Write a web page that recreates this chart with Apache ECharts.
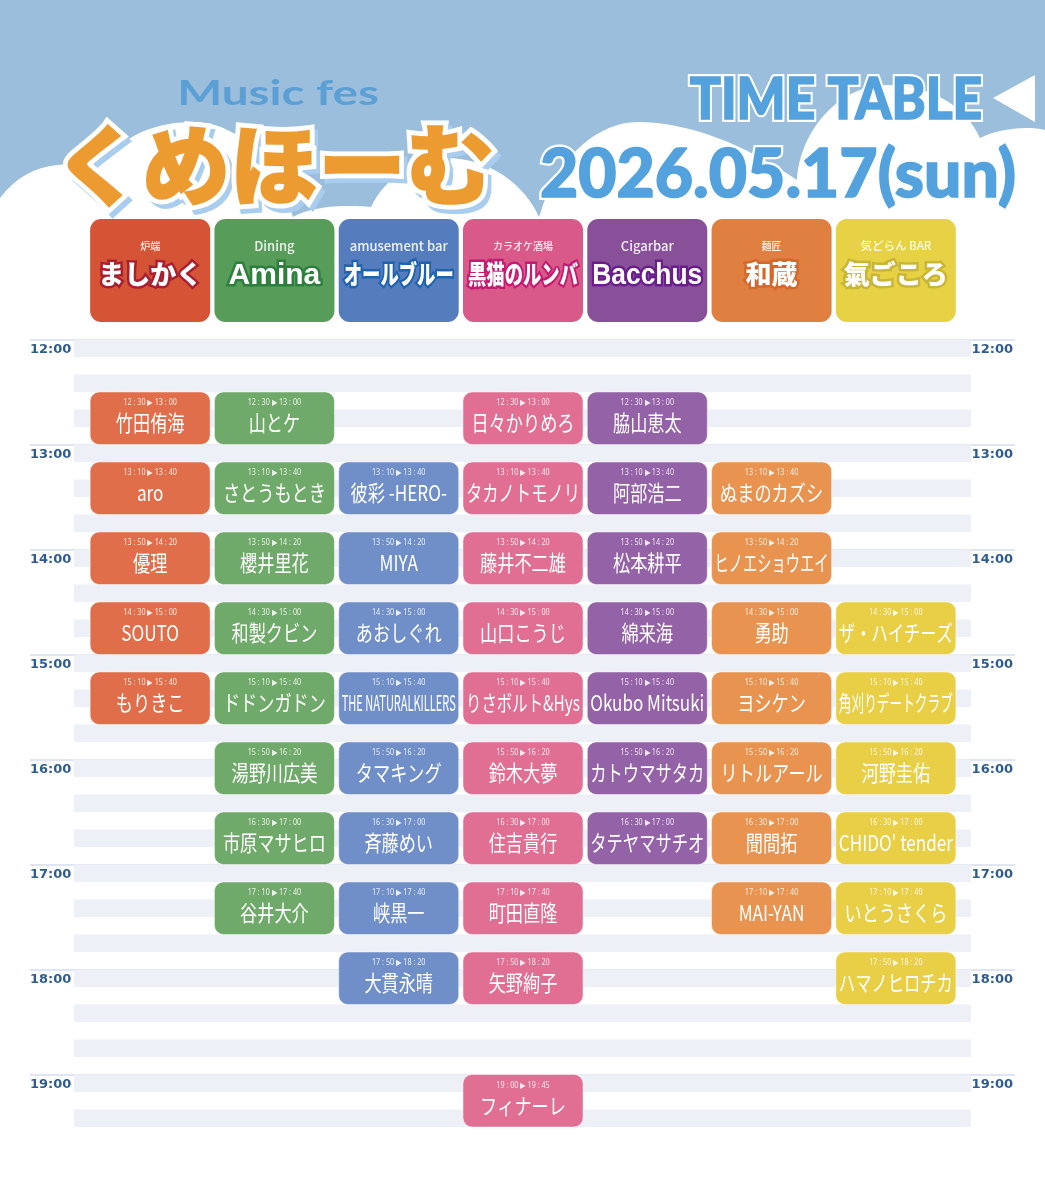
<!DOCTYPE html>
<html>
<head>
<meta charset="utf-8">
<title>くめほーむ TIME TABLE</title>
<script src="https://cdn.jsdelivr.net/npm/echarts@6/dist/echarts.min.js"></script>
<style>
  html, body { margin: 0; padding: 0; background: #fff; }
  #chart { width: 1045px; height: 1200px; }
</style>
</head>
<body>
<div id="chart"></div>
<script>
const venues = ['ましかく', 'Amina', 'オールブルー', '黒猫のルンバ', 'Bacchus', '和蔵', '氣ごころ']
const venueTags = ['炉端', 'Dining', 'amusement bar', 'カラオケ酒場', 'Cigarbar', '麺匠', '気どらん BAR']

// 枠: 開始, 終了 (19:00 は表記 19:45 だが箱は他と同じ高さ)
const slotStarts = ['12:30', '13:10', '13:50', '14:30', '15:10', '15:50', '16:30', '17:10', '17:50', '19:00']
const slotEnds = ['13:00', '13:40', '14:20', '15:00', '15:40', '16:20', '17:00', '17:40', '18:20', '19:30']
const slotLabels = ['12:30 ▶ 13:00', '13:10 ▶ 13:40', '13:50 ▶ 14:20', '14:30 ▶ 15:00', '15:10 ▶ 15:40',
  '15:50 ▶ 16:20', '16:30 ▶ 17:00', '17:10 ▶ 17:40', '17:50 ▶ 18:20', '19:00 ▶ 19:45']

const mashikakuActs = ['竹田侑海', 'aro', '優理', 'SOUTO', 'もりきこ', null, null, null, null, null]
const aminaActs = ['山とケ', 'さとうもとき', '櫻井里花', '和製クビン', 'ドドンガドン', '湯野川広美', '市原マサヒロ', '谷井大介', null, null]
const allBlueActs = [null, '彼彩 -HERO-', 'MIYA', 'あおしぐれ', 'THE NATURALKILLERS', 'タマキング', '斉藤めい', '峡黒一', '大貫永晴', null]
const rumbaActs = ['日々かりめろ', 'タカノトモノリ', '藤井不二雄', '山口こうじ', 'りさボルト&Hys', '鈴木大夢', '住吉貴行', '町田直隆', '矢野絢子', 'フィナーレ']
const bacchusActs = ['脇山恵太', '阿部浩二', '松本耕平', '綿来海', 'Okubo Mitsuki', 'カトウマサタカ', 'タテヤマサチオ', null, null, null]
const wazoActs = [null, 'ぬまのカズシ', 'ヒノエショウエイ', '勇助', 'ヨシケン', 'リトルアール', '聞間拓', 'MAI-YAN', null, null]
const kigokoroActs = [null, null, null, 'ザ・ハイチーズ', '角刈りデートクラブ', '河野圭佑', "CHIDO' tender", 'いとうさくら', 'ハマノヒロチカ', null]
const venueActs = [mashikakuActs, aminaActs, allBlueActs, rumbaActs, bacchusActs, wazoActs, kigokoroActs]

const tileColors = ['#D65436', '#579C59', '#557DBE', '#D95A88', '#875098', '#DF7F40', '#E6D244']
const tileEdges = ['#A81F30', '#2E7F3E', '#1F62AE', '#C51A72', '#691E8C', '#D4682A', '#C9B637']
const blockColors = ['#E06E4A', '#70AA6A', '#708FC9', '#E16F94', '#9462A7', '#E8934F', '#E8CF45']

const cloudPath = 'M0,198 C15,178 35,167 57,165 C75,163 95,165 115,150 C135,130 165,122 193,122 ' +
  'C240,122 280,165 293,217 C305,210 325,206 345,206 C355,206 365,206 371,207 ' +
  'C385,178 415,158 446,158 C490,158 525,185 539,217 L543,205 C560,155 600,122 637,122 ' +
  'C690,122 745,145 797,180 C800,130 840,85 887,85 C930,85 965,105 980,138 ' +
  'C995,130 1025,125 1045,130 L1045,262 L0,262 Z'

const toMin = s => { const p = s.split(':'); return p[0] * 60 + +p[1] }
const JP = '"Noto Sans CJK JP", sans-serif'

const ctx = document.createElement('canvas').getContext('2d')
// 幅に収まるよう横方向だけ縮める
function fitScale(text, font, base, maxW) {
  ctx.font = font
  const w = ctx.measureText(text).width
  return Math.min(base, maxW / w)
}

const blocks = []
venueActs.forEach((acts, v) => {
  acts.forEach((name, s) => {
    if (name) blocks.push([v, toMin(slotStarts[s]), toMin(slotEnds[s]), s, name])
  })
})

function renderBlock(params, api) {
  const b = blocks[params.dataIndex]
  const top = api.coord([b[0], b[1]])
  const bottom = api.coord([b[0], b[2]])
  const w = api.size([1, 0])[0] - 4.3
  const nameFont = '400 22px ' + JP
  return {
    type: 'group',
    children: [
      {
        type: 'rect',
        shape: { x: top[0] - w / 2, y: top[1], width: w, height: bottom[1] - top[1], r: 9 },
        style: { fill: blockColors[b[0]], stroke: 'rgba(255,255,255,0.45)', lineWidth: 1 }
      },
      {
        type: 'text',
        x: top[0],
        y: top[1] + 11,
        scaleX: 0.9,
        style: {
          text: slotLabels[b[3]].replace(/:/g, ' : '),
          font: '400 8px "Noto Sans", sans-serif',
          fill: 'rgba(255,255,255,0.85)',
          align: 'center',
          verticalAlign: 'middle'
        }
      },
      {
        type: 'text',
        x: top[0],
        y: top[1] + 31,
        scaleX: fitScale(b[4], nameFont, 0.78, 114),
        style: {
          text: b[4],
          font: nameFont,
          fill: '#fff',
          align: 'center',
          verticalAlign: 'middle'
        }
      }
    ]
  }
}

function tagSize(tag) {
  if (/^[\x00-\x7f]+$/.test(tag)) return 13
  return /[A-Z]/.test(tag) ? 11.5 : 10
}

function renderTile(params, api) {
  const v = api.value(0)
  const top = api.coord([v, 1])
  const bottom = api.coord([v, 0])
  const w = api.size([1, 0])[0] - 4.3
  const latin = /^[A-Za-z]/.test(venues[v])
  const font = '900 ' + (latin ? 30 : 26) + 'px ' + (latin ? '"Liberation Sans", sans-serif' : JP)
  return {
    type: 'group',
    children: [
      {
        type: 'rect',
        shape: { x: top[0] - w / 2, y: top[1], width: w, height: bottom[1] - top[1], r: 11 },
        style: { fill: tileColors[v] }
      },
      {
        type: 'text',
        x: top[0],
        y: top[1] + 27,
        style: {
          text: venueTags[v],
          font: '500 ' + tagSize(venueTags[v]) + 'px ' + JP,
          fill: 'rgba(255,255,255,0.9)',
          align: 'center',
          verticalAlign: 'middle'
        }
      },
      {
        type: 'text',
        x: top[0],
        y: top[1] + (latin ? 56.5 : 55),
        scaleX: fitScale(venues[v], font, 1, 110),
        style: {
          text: venues[v],
          font: font,
          fill: '#fff',
          stroke: tileEdges[v],
          lineWidth: 5,
          lineJoin: 'round',
          strokeFirst: true,
          align: 'center',
          verticalAlign: 'middle'
        }
      }
    ]
  }
}

const hourLabel = margin => ({
  inside: true,
  margin: margin,
  color: '#2F5C90',
  fontFamily: '"DejaVu Sans", sans-serif',
  fontWeight: 'bold',
  fontSize: 13,
  verticalAlign: 'top',
  padding: [4, 0, 0, 0],
  formatter: v => Math.floor(v / 60) + ':00'
})

const hiddenX = i => ({ gridIndex: i, type: 'value', min: 0, max: 1, show: false })

// 白縁 + 本体の二段重ねの見出し文字
function outlined(text, font, x, y, scaleX, fill, edge, edgeWidth, z) {
  const base = { text: text, font: font, align: 'center', verticalAlign: 'middle', lineJoin: 'round' }
  return [
    { type: 'text', z: z, x: x, y: y, scaleX: scaleX, style: Object.assign({ fill: edge, stroke: edge, lineWidth: edgeWidth }, base) },
    { type: 'text', z: z + 0.5, x: x, y: y, scaleX: scaleX, style: Object.assign({ fill: fill, stroke: fill, lineWidth: 1.5 }, base) }
  ]
}

const option = {
  animation: false,
  backgroundColor: '#fff',
  graphic: {
    elements: [
      { type: 'rect', z: -10, shape: { x: 0, y: 0, width: 1045, height: 240 }, style: { fill: '#9ABEDC' } },
      { type: 'polygon', z: -5, shape: { points: [[993, 98], [1035, 75], [1035, 122]] }, style: { fill: '#fff' } },
      {
        type: 'text', z: -5, x: 278, y: 94,
        scaleX: 1.4,
        style: {
          text: 'Music fes', font: '700 34px Lato, sans-serif', fill: '#5B9FD5',
          align: 'center', verticalAlign: 'middle'
        }
      },
      {
        type: 'text', z: -5, x: 278, y: 170,
        style: {
          text: 'くめほーむ', font: '900 88px ' + JP, fill: '#A9CDEE', stroke: '#A9CDEE', lineWidth: 10, lineJoin: 'round',
          align: 'center', verticalAlign: 'middle'
        }
      },
      ...outlined('くめほーむ', '900 88px ' + JP, 274, 165, 1, '#EC9B30', '#fff', 11, -4),
      ...outlined('TIME TABLE', '900 58px Lato, sans-serif', 836, 100, 0.89, '#53A2DE', '#fff', 6, -5),
      ...outlined('2026.05.17(sun)', '900 66px Lato, sans-serif', 778, 176, 1, '#53A2DE', '#fff', 6, -5)
    ]
  },
  grid: [
    // 時刻ラベルと毎時の線
    { left: 30, width: 985, top: 339.5, height: 735 },
    // 10分ごとの帯
    { left: 74, width: 897, top: 339.5, height: 787.5 },
    // 出演枠
    { left: 88, width: 870, top: 339.5, height: 787.5 },
    // 会場タイル
    { left: 88, width: 870, top: 219, height: 103 }
  ],
  xAxis: [
    hiddenX(0),
    hiddenX(1),
    { gridIndex: 2, type: 'category', data: venues, show: false },
    { gridIndex: 3, type: 'category', data: venues, show: false }
  ],
  yAxis: [
    {
      gridIndex: 0, type: 'value', inverse: true, min: 720, max: 1140, interval: 60,
      axisLine: { show: false }, axisTick: { show: false },
      axisLabel: hourLabel(0),
      splitLine: { show: true, lineStyle: { color: '#D4DCEE', width: 1.5 } }
    },
    {
      gridIndex: 0, type: 'value', inverse: true, position: 'right', min: 720, max: 1140, interval: 60,
      axisLine: { show: false }, axisTick: { show: false },
      axisLabel: hourLabel(2),
      splitLine: { show: false }
    },
    {
      gridIndex: 1, type: 'value', inverse: true, min: 720, max: 1170, interval: 10,
      axisLine: { show: false }, axisTick: { show: false }, axisLabel: { show: false },
      splitLine: { show: false },
      splitArea: { show: true, areaStyle: { color: ['#EDF0F7', 'rgba(255,255,255,0)'] } }
    },
    { gridIndex: 2, type: 'value', inverse: true, min: 720, max: 1170, show: false },
    { gridIndex: 3, type: 'value', min: 0, max: 1, show: false }
  ],
  series: [
    {
      type: 'custom',
      silent: true,
      coordinateSystem: 'none',
      z: -9,
      data: [[0]],
      renderItem: () => ({
        type: 'path',
        shape: { pathData: cloudPath, x: 0, y: 85, width: 1045, height: 177, layout: 'cover' },
        style: { fill: '#fff' }
      })
    },
    {
      type: 'custom',
      silent: true,
      xAxisIndex: 2,
      yAxisIndex: 3,
      clip: false,
      data: blocks.map(b => [b[0], b[1], b[2]]),
      encode: { x: 0, y: [1, 2] },
      renderItem: renderBlock
    },
    {
      type: 'custom',
      silent: true,
      xAxisIndex: 3,
      yAxisIndex: 4,
      clip: false,
      data: venues.map((_, i) => [i, 0]),
      encode: { x: 0, y: 1 },
      renderItem: renderTile
    }
  ]
}

const myChart = echarts.init(document.getElementById('chart'), null, { renderer: 'canvas' })
myChart.setOption(option)
</script>
</body>
</html>
